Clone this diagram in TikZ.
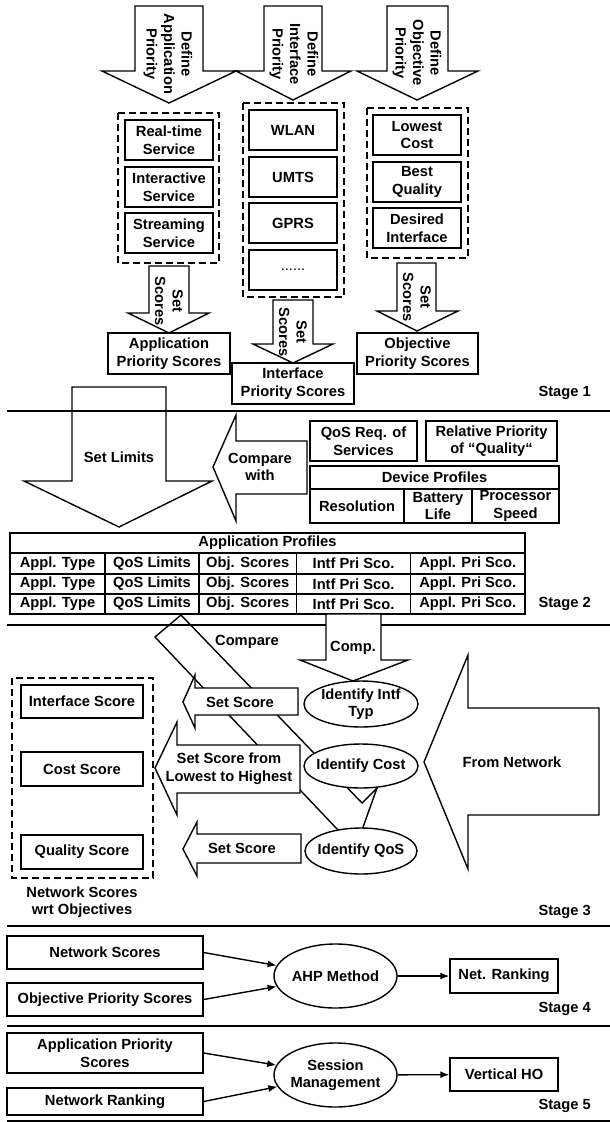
\documentclass[tikz,border=0pt]{standalone}
\usepackage{fontspec}
\setmainfont{Liberation Sans}
\usetikzlibrary{arrows.meta,shapes.geometric}
\begin{document}
\begin{tikzpicture}[x=1pt,y=-1pt,
  txt/.style={font=\fontsize{14.7}{17.5}\selectfont\bfseries, align=center, inner sep=0pt},
  box/.style={txt, draw, line width=1.4pt, fill=white},
  dbox/.style={draw, line width=1.4pt, dash pattern=on 7pt off 4pt},
  blk/.style={draw, line width=1.4pt, line join=miter},
  blkw/.style={blk, fill=white},
  ell/.style={draw, line width=1.4pt, fill=white, ellipse, inner sep=0pt},
  divider/.style={line width=2.6pt},
  conn/.style={line width=1.4pt, -{Latex[length=9pt,width=7pt]}},
  stage/.style={txt, anchor=east},
  rot/.style={txt, rotate=-90},
]
\useasboundingbox (0,0) rectangle (610,1122);

% ---------------- Stage 1 ----------------
\draw[blk] (135,6) -- (203,6) -- (203,71) -- (236,71) -- (169,103) -- (102,71) -- (135,71) -- cycle;
\draw[blk] (264,6) -- (322,6) -- (322,71) -- (351,71) -- (293,100) -- (236,71) -- (264,71) -- cycle;
\draw[blk] (387,6) -- (448,6) -- (448,71) -- (478,71) -- (417,100) -- (357,71) -- (387,71) -- cycle;
\node[rot] (defapp) at (168,54) {Define\\Application\\Priority};
\node[rot] (defint) at (294,54) {Define\\Interface\\Priority};
\node[rot] (defobj) at (417,53) {Define\\Objective\\Priority};

\draw[dbox] (118,113) rectangle (219,263);
\draw[dbox] (243,103) rectangle (344,297);
\draw[dbox] (367,108) rectangle (468,258);

\node[box, minimum width=88pt, minimum height=40pt] (rt) at (169,140) {Real-time\\Service};
\node[box, minimum width=88pt, minimum height=40pt] (ia) at (169,187) {Interactive\\Service};
\node[box, minimum width=88pt, minimum height=40pt] (st) at (169,233) {Streaming\\Service};

\node[box, minimum width=88pt, minimum height=40pt] (wlan) at (293,130) {WLAN};
\node[box, minimum width=88pt, minimum height=40pt] (umts) at (293,177) {UMTS};
\node[box, minimum width=88pt, minimum height=40pt] (gprs) at (293,223) {GPRS};
\node[box, minimum width=88pt, minimum height=40pt, font=\fontsize{14.7}{17.5}\selectfont] (dots) at (293,270) {......};

\node[box, minimum width=88pt, minimum height=40pt] (lc) at (417,135) {Lowest\\Cost};
\node[box, minimum width=88pt, minimum height=40pt] (bq) at (417,182) {Best\\Quality};
\node[box, minimum width=88pt, minimum height=40pt] (di) at (417,228) {Desired\\Interface};

\draw[blk] (149,266) -- (189,266) -- (189,313) -- (209,313) -- (169,333) -- (128,313) -- (149,313) -- cycle;
\draw[blk] (273,300) -- (313,300) -- (313,344) -- (333,344) -- (293,363) -- (253,344) -- (273,344) -- cycle;
\draw[blk] (397,263) -- (436,263) -- (436,311) -- (458,311) -- (417,331) -- (377,311) -- (397,311) -- cycle;
\node[rot] (ss1) at (169,301) {Set\\Scores};
\node[rot] (ss2) at (293,332) {Set\\Scores};
\node[rot] (ss3) at (417,297) {Set\\Scores};

\node[box, minimum width=122pt, minimum height=41pt] (aps) at (169,353.5) {Application\\Priority Scores};
\node[box, minimum width=122pt, minimum height=41pt] (ips) at (293,383.5) {Interface\\Priority Scores};
\node[box, minimum width=121pt, minimum height=41pt] (ops) at (417.5,353.5) {Objective\\Priority Scores};

\node[stage] (stg1) at (591,393) {Stage 1};

% ---------------- Stage 2 ----------------
\draw[blk] (72,387) -- (166,387) -- (166,481) -- (212,481) -- (119,527) -- (24,481) -- (72,481) -- cycle;
\node[txt] (setlim) at (119,457) {Set Limits};
\draw[divider] (7,411) -- (610,411);

\draw[blkw] (307,441) -- (236,441) -- (236,415) -- (213,467) -- (236,521) -- (236,494) -- (307,494) -- cycle;
\node[txt] (cmpw) at (260,467) {Compare\\with};

\node[box, minimum width=107pt, minimum height=40pt] (qos) at (363.5,441) {QoS Req. of\\Services};
\node[box, minimum width=131pt, minimum height=40pt] (rel) at (491.5,441) {Relative Priority\\of “Quality“};
\node[box, minimum width=249pt, minimum height=23pt] (dp) at (434.5,477.5) {Device Profiles};
\node[box, minimum width=94pt, minimum height=34pt] (res) at (357,506) {Resolution};
\node[box, minimum width=68pt, minimum height=34pt] (bat) at (438,506) {Battery\\Life};
\node[box, minimum width=87pt, minimum height=34pt] (proc) at (515.5,506) {Processor\\Speed};

\node[box, minimum width=515pt, minimum height=20pt] (aprof) at (267.5,543) {Application Profiles};
\foreach \r/\y/\h in {1/563.5/21pt, 2/584/20pt, 3/604/20pt} {
  \node[box, minimum width=95pt, minimum height=\h] (t\r a) at (57.5,\y) {Appl. Type};
  \node[box, minimum width=94pt, minimum height=\h] (t\r b) at (152,\y) {QoS Limits};
  \node[box, minimum width=97.5pt, minimum height=\h] (t\r c) at (247.75,\y) {Obj. Scores};
  \node[box, minimum width=114pt, minimum height=\h] (t\r d) at (353.5,\y) {Intf Pri Sco.};
  \node[box, minimum width=114.5pt, minimum height=\h] (t\r e) at (467.75,\y) {Appl. Pri Sco.};
}
\node[stage] (stg2) at (591,604) {Stage 2};

% ---------------- Stage 3 ----------------
\draw[divider] (7,625) -- (610,625);
\draw[blkw] (326,614) -- (381,614) -- (381,660) -- (408,660) -- (353,681) -- (300,660) -- (326,660) -- cycle;
\node[txt] (comp) at (353,648) {Comp.};

% diagonal "Compare" arrow (partly hidden)
\draw[blk] (338,830) -- (155,637) -- (181,615) -- (362,803) -- (378,787);
\draw[blk] (377,788) -- (362,830);
\node[txt] (cmp) at (247,642) {Compare};

\node[ell, minimum width=114pt, minimum height=46pt] (iit) at (361,704) {};
\node[txt] at (iit) {Identify Intf\\Typ};
\node[ell, minimum width=114pt, minimum height=44pt] (ic) at (361,766) {};
\node[txt] at (ic) {Identify Cost};
\node[ell, minimum width=112pt, minimum height=46pt] (iq) at (361,851) {};
\node[txt] at (iq) {Identify QoS};

\draw[blkw] (298,688) -- (195,688) -- (195,675) -- (183,702) -- (195,728) -- (195,715) -- (298,715) -- cycle;
\node[txt] (sset1) at (240,702) {Set Score};
\draw[blkw] (300,745) -- (177,745) -- (177,722) -- (155,768) -- (177,815) -- (177,793) -- (300,793) -- cycle;
\node[txt] (sset2) at (229,768.5) {Set Score from\\Lowest to Highest};
\draw[blkw] (301,834) -- (197,834) -- (197,822) -- (183,849) -- (197,876) -- (197,863) -- (301,863) -- cycle;
\node[txt] (sset3) at (242,848) {Set Score};

\draw[dbox] (12,678) rectangle (153,878);
\node[box, minimum width=122pt, minimum height=33pt] (isc) at (82,701.5) {Interface Score};
\node[box, minimum width=122pt, minimum height=34pt] (csc) at (82,769) {Cost Score};
\node[box, minimum width=122pt, minimum height=34pt] (qsc) at (82,852) {Quality Score};
\node[txt] (nswo) at (82,902) {Network Scores\\wrt Objectives};

\draw[blkw] (599,708) -- (468,708) -- (468,655) -- (424,762) -- (468,869) -- (468,815) -- (599,815) -- cycle;
\node[txt] (fn) at (512,762) {From Network};

\node[stage] (stg3) at (591,912) {Stage 3};
\draw[divider] (7,926) -- (610,926);

% ---------------- Stage 4 ----------------
\node[box, minimum width=196pt, minimum height=33pt] (ns) at (105,952.5) {Network Scores};
\node[box, minimum width=196pt, minimum height=33pt] (ops2) at (105,999.5) {Objective Priority Scores};
\node[ell, minimum width=123pt, minimum height=64pt] (ahp) at (335.5,976) {};
\node[txt] at (ahp) {AHP Method};
\node[box, minimum width=108pt, minimum height=34pt] (nr) at (504,976) {Net. Ranking};
\draw[conn] (ns.east) -- (ahp);
\draw[conn] (ops2.east) -- (ahp);
\draw[conn] (ahp) -- (nr);
\node[stage] (stg4) at (591,1009) {Stage 4};
\draw[divider] (7,1026) -- (610,1026);

% ---------------- Stage 5 ----------------
\node[box, minimum width=196pt, minimum height=40pt] (aps2) at (105,1053) {Application Priority\\Scores};
\node[box, minimum width=196pt, minimum height=27pt] (nrk) at (105,1101.5) {Network Ranking};
\node[ell, minimum width=123pt, minimum height=64pt] (sm) at (335.5,1075) {};
\node[txt] at (sm) {Session\\Management};
\node[box, minimum width=108pt, minimum height=33pt] (vho) at (504,1074.5) {Vertical HO};
\draw[conn] (aps2.east) -- (sm);
\draw[conn] (nrk.east) -- (sm);
\draw[conn] (sm) -- (vho);
\node[stage] (stg5) at (591,1106) {Stage 5};
\draw[line width=1.5pt] (7,1121) -- (610,1121);
\end{tikzpicture}
\end{document}
